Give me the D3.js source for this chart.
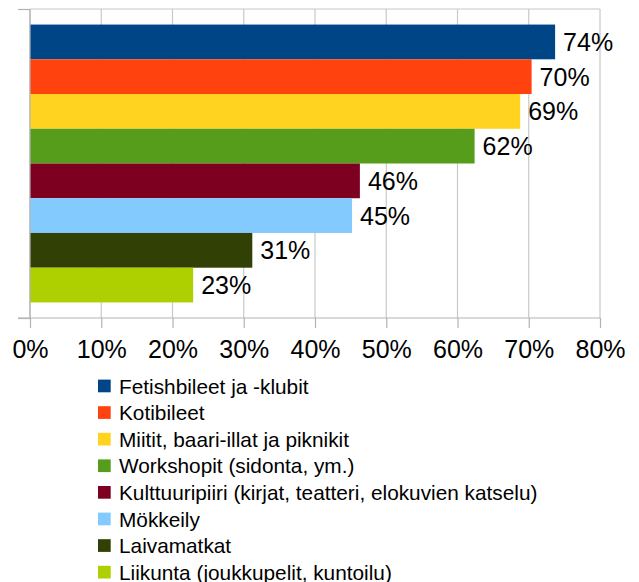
<!DOCTYPE html>
<html>
<head>
<meta charset="utf-8">
<script src="https://cdn.jsdelivr.net/npm/d3@7"></script>
<style>
  body { margin: 0; background: #fff; }
  svg { display: block; font-family: "Liberation Sans", Arial, sans-serif; }
</style>
</head>
<body>
<svg></svg>
<script>
'use strict';

const categories = [
  "Fetishbileet ja -klubit",
  "Kotibileet",
  "Miitit, baari-illat ja piknikit",
  "Workshopit (sidonta, ym.)",
  "Kulttuuripiiri (kirjat, teatteri, elokuvien katselu)",
  "Mökkeily",
  "Laivamatkat",
  "Liikunta (joukkupelit, kuntoilu)"
];
const values = [73.7, 70.4, 68.8, 62.4, 46.3, 45.2, 31.2, 22.9];
const colors = ["#004586", "#ff420e", "#ffd320", "#579d1c", "#7e0021", "#83caff", "#314004", "#aecf00"];
const ticks = [0, 10, 20, 30, 40, 50, 60, 70, 80];

const width = 639, height = 582;
const svg = d3.select("svg").attr("width", width).attr("height", height);

const plotLeft = 30, plotRight = 600, plotTop = 9, plotBottom = 318;

const x = d3.scaleLinear().domain([0, 80]).range([plotLeft, plotRight]);
// one group holding all series, like the original
const group = d3.scaleBand().domain(["all"]).range([plotTop, plotBottom]).paddingInner(0).paddingOuter(0.056);
const y = d3.scaleBand().domain(categories).range([group("all"), group("all") + group.bandwidth()]);

// grid
svg.append("g")
  .selectAll("line")
  .data(ticks)
  .join("line")
  .attr("x1", d => x(d)).attr("x2", d => x(d))
  .attr("y1", plotTop).attr("y2", plotBottom)
  .attr("stroke", "#c8c8c8").attr("stroke-width", 1.2);

svg.append("line")
  .attr("x1", plotLeft).attr("x2", plotRight).attr("y1", plotTop).attr("y2", plotTop)
  .attr("stroke", "#c8c8c8").attr("stroke-width", 1.2);

// bars
svg.append("g")
  .selectAll("rect")
  .data(categories)
  .join("rect")
  .attr("x", x(0))
  .attr("y", d => y(d))
  .attr("width", (d, i) => x(values[i]) - x(0))
  .attr("height", y.bandwidth())
  .attr("fill", (d, i) => colors[i]);

// data labels
svg.append("g")
  .selectAll("text")
  .data(categories)
  .join("text")
  .attr("x", (d, i) => x(values[i]) + 8)
  .attr("y", d => y(d) + y.bandwidth() / 2)
  .attr("dy", "0.36em")
  .style("font-size", "25px")
  .style("fill", "#000")
  .text((d, i) => Math.round(values[i]) + "%");

// x axis
const xAxis = d3.axisBottom(x)
  .tickValues(ticks)
  .tickFormat(d => d + "%")
  .tickSize(10)
  .tickPadding(12);
const gx = svg.append("g").attr("transform", `translate(0,${plotBottom})`).call(xAxis);
gx.select(".domain").attr("stroke", "#b3b3b3").attr("stroke-width", 1.2)
  .attr("d", `M${plotLeft - 12},0H${plotRight}`);
gx.selectAll(".tick line").attr("stroke", "#b3b3b3").attr("stroke-width", 1.2);
gx.selectAll(".tick text")
  .style("font-size", "25px")
  .style("font-family", "Liberation Sans, Arial, sans-serif")
  .attr("fill", "#000");

// y axis (single category)
const yAxis = d3.axisLeft(d3.scaleLinear().domain([0, 1]).range([plotBottom, plotTop]))
  .tickValues([0, 1]).tickFormat("").tickSize(12);
const gy = svg.append("g").attr("transform", `translate(${plotLeft},0)`).call(yAxis);
gy.select(".domain").attr("stroke", "#b3b3b3").attr("stroke-width", 1.2).attr("d", `M0,${plotTop}V${plotBottom}`);
gy.selectAll(".tick line").attr("stroke", "#b3b3b3").attr("stroke-width", 1.2);

// legend
const legend = svg.append("g").attr("transform", "translate(98,386)");
const row = legend.selectAll("g")
  .data(categories)
  .join("g")
  .attr("transform", (d, i) => `translate(0,${i * 26.6})`);
row.append("rect")
  .attr("x", 0).attr("y", -6.4)
  .attr("width", 12.7).attr("height", 12.7)
  .attr("fill", (d, i) => colors[i]);
row.append("text")
  .attr("x", 21)
  .attr("dy", "0.36em")
  .style("font-size", "20.8px")
  .style("fill", "#000")
  .text(d => d);
</script>
</body>
</html>
